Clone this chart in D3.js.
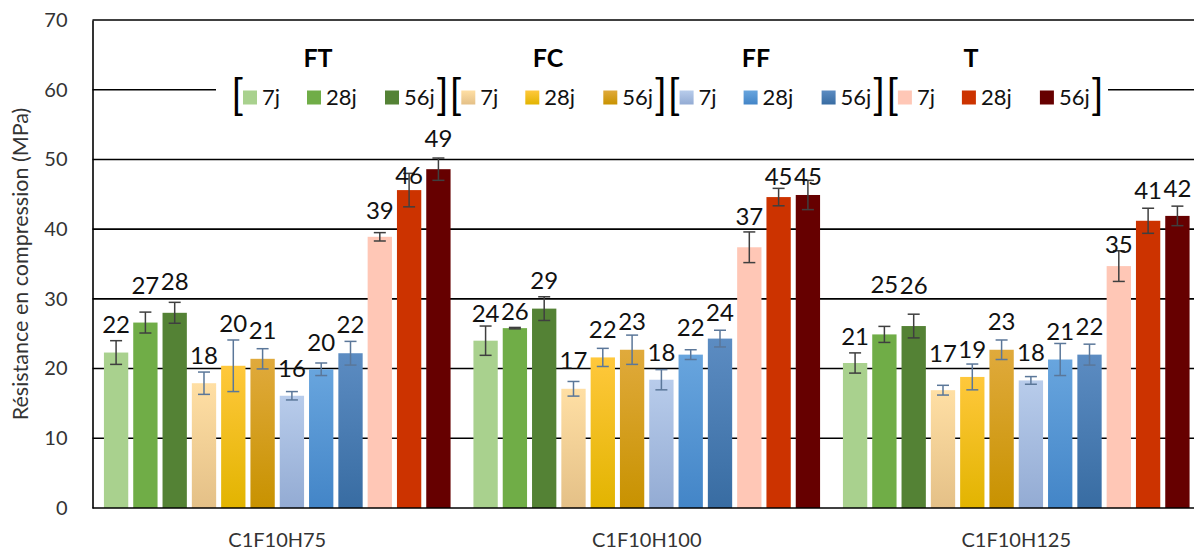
<!DOCTYPE html>
<html>
<head>
<meta charset="utf-8">
<script src="https://cdn.jsdelivr.net/npm/d3@7"></script>
<style>
  html, body { margin: 0; padding: 0; background: #fff; }
  svg { display: block; font-family: Lato, "Open Sans", sans-serif; }
</style>
</head>
<body>
<svg id="chart" width="1194" height="551"></svg>
<script>
// ---------- data ----------
const categories = ["C1F10H75", "C1F10H100", "C1F10H125"];
const families = ["FT", "FC", "FF", "T"];
const ages = ["7j", "28j", "56j"];
const yTicks = [0, 10, 20, 30, 40, 50, 60, 70];

// order: FT 7/28/56, FC 7/28/56, FF 7/28/56, T 7/28/56
const valuesH75  = [22.3, 26.6, 28.0, 17.9, 20.4, 21.4, 16.1, 19.9, 22.2, 38.9, 45.6, 48.6];
const valuesH100 = [24.0, 25.8, 28.6, 17.1, 21.6, 22.7, 18.4, 22.0, 24.3, 37.4, 44.6, 44.9];
const valuesH125 = [20.8, 24.9, 26.1, 16.9, 18.8, 22.7, 18.3, 21.3, 22.0, 34.7, 41.2, 41.9];

const errorsH75  = [1.7, 1.5, 1.5, 1.6, 3.7, 1.45, 0.6, 0.9, 1.7, 0.6, 2.4, 1.6];
const errorsH100 = [2.1, 0.1, 1.7, 1.05, 1.3, 2.1, 1.45, 0.7, 1.2, 2.2, 1.25, 2.1];
const errorsH125 = [1.45, 1.15, 1.7, 0.7, 1.85, 1.4, 0.55, 2.3, 1.5, 2.2, 1.8, 1.4];

// ---------- styling / layout ----------
const seriesKeys = [];
families.forEach(f => ages.forEach(a => seriesKeys.push(f + "-" + a)));

const fills = {
  "FT-7j": ["#A9D18E", "#A9D18E"], "FT-28j": ["#70AD47", "#70AD47"], "FT-56j": ["#548235", "#548235"],
  "FC-7j": ["#FFDFA4", "#E4C087"], "FC-28j": ["#FFC83C", "#E2B400"], "FC-56j": ["#E0AA3C", "#C89200"],
  "FF-7j": ["#B8CCEB", "#93ABD3"], "FF-28j": ["#68A5DE", "#4385C7"], "FF-56j": ["#5C8CC2", "#386CA2"],
  "T-7j":  ["#FFC7B6", "#FFC7B6"], "T-28j":  ["#CC3300", "#CC3300"], "T-56j":  ["#660000", "#660000"]
};
const errColor = { FT: "#3F3F3F", FC: "#5B7799", FF: "#5B7799", T: "#3F3F3F" };

// label lift above bar top (px), per category
const labelLift = [
  [28, 37, 31, 28, 42, 28, 27, 27, 29, 26, 15, 31],
  [27, 17, 28, 28, 28, 28, 27, 27, 26, 31, 21, 19],
  [27, 50, 41, 37, 28, 28, 28, 28, 28, 22, 30, 28]
];

const allValues = [valuesH75, valuesH100, valuesH125];
const allErrors = [errorsH75, errorsH100, errorsH125];

const svg = d3.select("#chart");
const defs = svg.append("defs");
seriesKeys.forEach((k, i) => {
  const g = defs.append("linearGradient").attr("id", "grad" + i)
    .attr("x1", 0).attr("y1", 0).attr("x2", 0).attr("y2", 1);
  g.append("stop").attr("offset", "0%").attr("stop-color", fills[k][0]);
  g.append("stop").attr("offset", "100%").attr("stop-color", fills[k][1]);
});

const plotLeft = 92.5, plotTop = 20, plotBottom = 508;
const x0 = d3.scaleBand().domain(categories).range([plotLeft, plotLeft + 3 * 369.5]).padding(0);
const x1 = d3.scaleBand().domain(seriesKeys).range([0, x0.bandwidth()])
  .paddingInner(0.17).paddingOuter(0.39);
const y = d3.scaleLinear().domain([0, 70]).range([plotBottom, plotTop]);

// gridlines
svg.append("g").selectAll("line").data(yTicks.filter(t => t > 0)).join("line")
  .attr("x1", plotLeft).attr("x2", 1194)
  .attr("y1", d => y(d)).attr("y2", d => y(d))
  .attr("stroke", "#000").attr("stroke-width", 1.6);

// y axis
const yAxis = svg.append("g").attr("transform", `translate(${plotLeft},0)`)
  .call(d3.axisLeft(y).tickValues(yTicks).tickSize(0).tickPadding(25));
yAxis.select(".domain").attr("stroke", "#000").attr("stroke-width", 1.6);
yAxis.selectAll("text").attr("font-size", 20).attr("fill", "#333")
  .attr("font-family", "Lato, sans-serif");

svg.append("text")
  .attr("transform", `translate(28,${(plotTop + plotBottom) / 2}) rotate(-90)`)
  .attr("text-anchor", "middle")
  .attr("font-size", 21.5).attr("fill", "#333")
  .text("Résistance en compression (MPa)");

// bars
const groups = svg.append("g").selectAll("g").data(categories).join("g")
  .attr("transform", d => `translate(${x0(d)},0)`);

groups.each(function (cat, ci) {
  const g = d3.select(this);
  const rows = seriesKeys.map((k, si) => ({
    key: k, fam: k.split("-")[0], si,
    v: allValues[ci][si], e: allErrors[ci][si], lift: labelLift[ci][si]
  }));
  g.selectAll("rect").data(rows).join("rect")
    .attr("x", d => x1(d.key)).attr("width", x1.bandwidth())
    .attr("y", d => y(d.v)).attr("height", d => y(0) - y(d.v))
    .attr("fill", d => `url(#grad${d.si})`);

  const eb = g.selectAll("g.err").data(rows).join("g").attr("class", "err")
    .attr("stroke", d => errColor[d.fam]).attr("stroke-width", 1.5);
  const cx = d => x1(d.key) + x1.bandwidth() / 2;
  eb.append("line").attr("x1", cx).attr("x2", cx)
    .attr("y1", d => y(d.v + d.e)).attr("y2", d => y(d.v - d.e));
  eb.append("line").attr("x1", d => cx(d) - 6).attr("x2", d => cx(d) + 6)
    .attr("y1", d => y(d.v + d.e)).attr("y2", d => y(d.v + d.e));
  eb.append("line").attr("x1", d => cx(d) - 6).attr("x2", d => cx(d) + 6)
    .attr("y1", d => y(d.v - d.e)).attr("y2", d => y(d.v - d.e));

  g.selectAll("text.lbl").data(rows).join("text").attr("class", "lbl")
    .attr("x", cx).attr("y", d => y(d.v) - d.lift)
    .attr("dy", "0.36em")
    .attr("text-anchor", "middle").attr("font-size", 24).attr("fill", "#111")
    .text(d => d3.format(".0f")(d.v));
});

// x axis
svg.append("line").attr("x1", plotLeft).attr("x2", 1194)
  .attr("y1", plotBottom).attr("y2", plotBottom)
  .attr("stroke", "#000").attr("stroke-width", 1.6);
svg.append("g").selectAll("text").data(categories).join("text")
  .attr("x", d => x0(d) + x0.bandwidth() / 2).attr("y", 547)
  .attr("text-anchor", "middle").attr("font-size", 20).attr("fill", "#333")
  .text(d => d);

// legend
const legend = svg.append("g");
legend.append("rect").attr("x", 216).attr("y", 76).attr("width", 892).attr("height", 42).attr("fill", "#fff");
const legStart = 243, legStep = 218.3, itemOff = [0, 64, 142];
const titleX = [318, 548, 756, 971];
families.forEach((f, fi) => {
  const gx = legStart + fi * legStep;
  legend.append("text").attr("x", titleX[fi]).attr("y", 67)
    .attr("text-anchor", "middle").attr("font-size", 25).attr("font-weight", "bold")
    .attr("fill", "#000").text(f);
  legend.append("text").attr("x", gx - 12).attr("y", 110)
    .attr("font-size", 42).attr("font-weight", 400).attr("fill", "#000").text("[");
  legend.append("text").attr("x", gx + 193).attr("y", 110)
    .attr("font-size", 42).attr("font-weight", 400).attr("fill", "#000").text("]");
  ages.forEach((a, ai) => {
    const si = fi * 3 + ai;
    const sx = gx + itemOff[ai];
    legend.append("rect").attr("x", sx).attr("y", 90.5).attr("width", 14).attr("height", 14)
      .attr("fill", `url(#grad${si})`);
    legend.append("text").attr("x", sx + 19).attr("y", 97.5).attr("dy", "0.36em")
      .attr("font-size", 22).attr("fill", "#111").text(a);
  });
});
</script>
</body>
</html>
